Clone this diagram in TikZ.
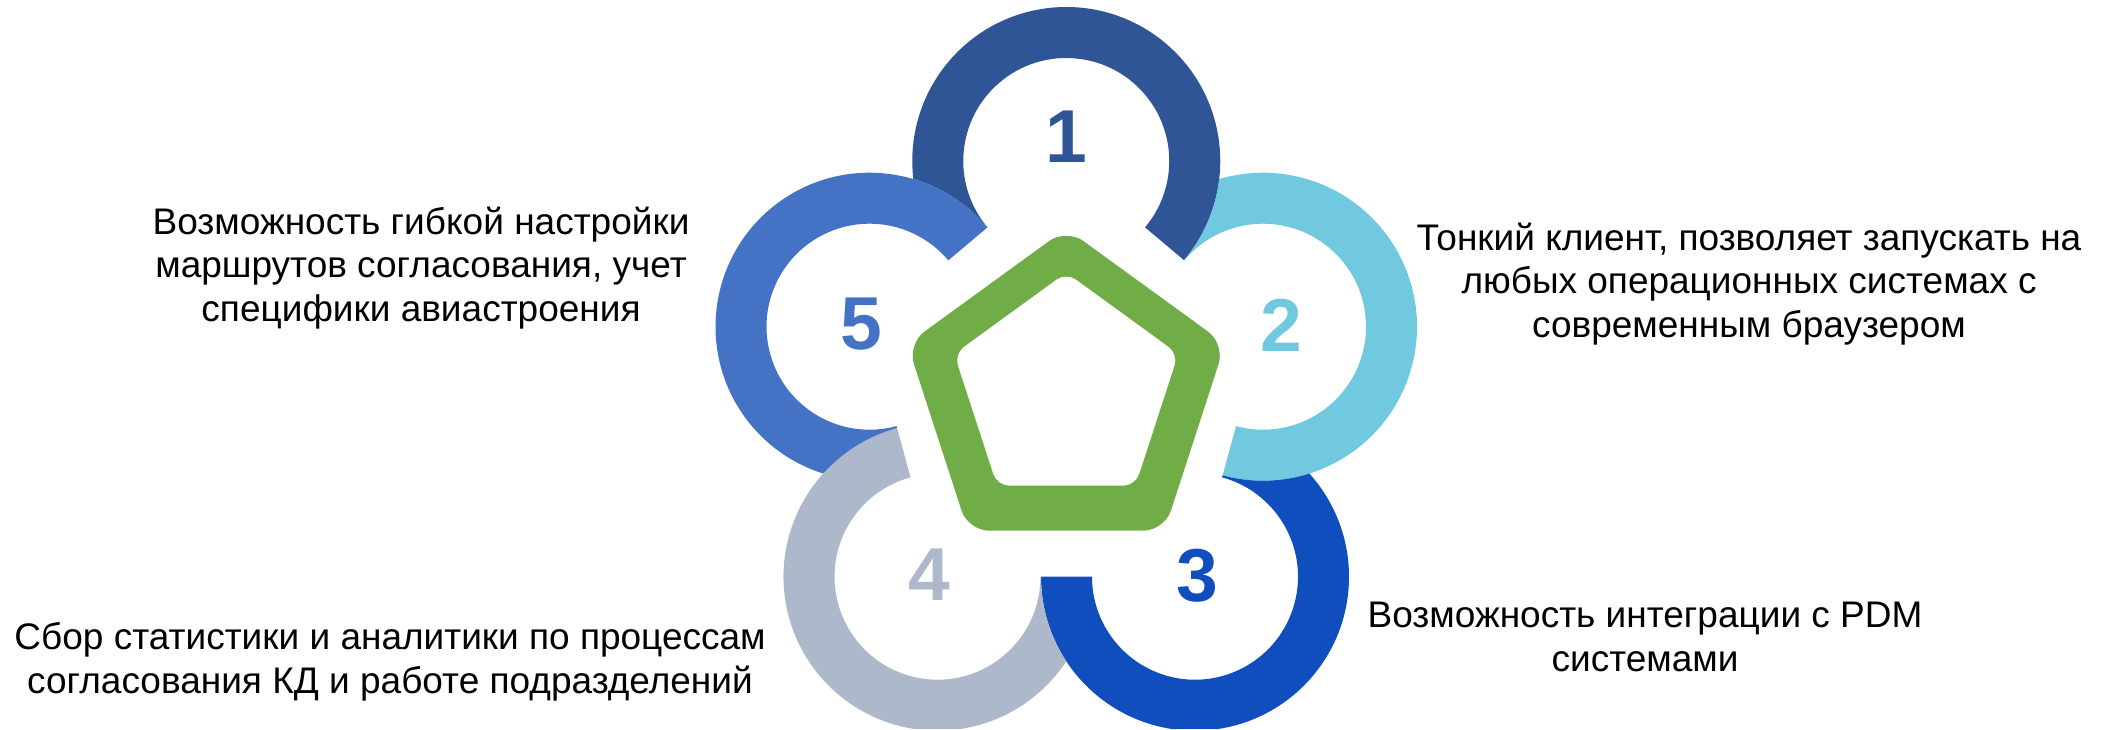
\documentclass[tikz,border=0pt]{standalone}
\usepackage{fontspec}
\setmainfont{Liberation Sans}
\usepackage{tikz}

\definecolor{ringA}{HTML}{2F5597}
\definecolor{ringB}{HTML}{70C9DF}
\definecolor{ringC}{HTML}{114EBD}
\definecolor{ringD}{HTML}{ADB9CA}
\definecolor{ringE}{HTML}{4472C4}
\definecolor{pentgreen}{HTML}{70AD47}

\begin{document}
\begin{tikzpicture}[x=0.5pt, y=0.5pt,
        num/.style={font=\fontsize{37.5}{40}\selectfont\bfseries, inner sep=0pt},
        txt/.style={font=\fontsize{18.5}{21.75}\selectfont, align=center, inner sep=0pt}]
        \useasboundingbox (0, 0) rectangle (2102, 729);

        \coordinate (c1) at (1066.25, 568);
        \coordinate (c2) at (1263, 402.3);
        \coordinate (c3) at (1195, 152.3);
        \coordinate (c4) at (937.5, 152.3);
        \coordinate (c5) at (869.5, 402.3);

        % each ring slides under the previous one
        \foreach \c/\p/\a/\b/\col in {c1/c5/-40.1/220.1/ringA, c2/c1/-105.2/139.9/ringB, c3/c2/180/434.8/ringC, c4/c3/105.2/360/ringD, c5/c4/40.1/285.2/ringE} {
            \begin{scope}[even odd rule]
                \clip (0, 0) -- (0, 729) -- (2102, 729) -- (2102, 0) -- cycle (\p) circle [radius=154];
                \fill[\col] ([shift={(\a:154)}]\c) arc [start angle=\a, end angle=\b, radius=154]
                    -- ([shift={(\b:103)}]\c) arc [start angle=\b, end angle=\a, radius=103] -- cycle;
            \end{scope}
        }

        \fill[pentgreen, even odd rule]
            [rounded corners=10.5pt] (1066.25, 500.4) -- (1225.1, 385.0) -- (1164.4, 198.3) -- (968.1, 198.3) -- (907.4, 385.0) -- cycle
            [rounded corners=6pt] (1066.25, 456.6) -- (1178.4, 375.1) -- (1135.5, 243.3) -- (997.0, 243.3) -- (954.1, 375.1) -- cycle;

        \node[num, text=ringA] (n1) at (1066, 592) {1};
        \node[num, text=ringB] (n2) at (1281, 404) {2};
        \node[num, text=ringC] (n3) at (1197.3, 153.5) {3};
        \node[num, text=ringD] (n4) at (929.5, 154) {4};
        \node[num, text=ringE] (n5) at (861, 404.5) {5};

        \node[txt] (t5) at (421, 461) {Возможность гибкой настройки\\маршрутов согласования, учет\\специфики авиастроения};
        \node[txt] (t2) at (1749, 445) {Тонкий клиент, позволяет запускать на\\любых операционных системах с\\современным браузером};
        \node[txt] (t3) at (1645, 92) {Возможность интеграции с PDM\\системами};
        \node[txt] (t4) at (390, 67) {Сбор статистики и аналитики по процессам\\согласования КД и работе подразделений};
    \end{tikzpicture}
\end{document}
